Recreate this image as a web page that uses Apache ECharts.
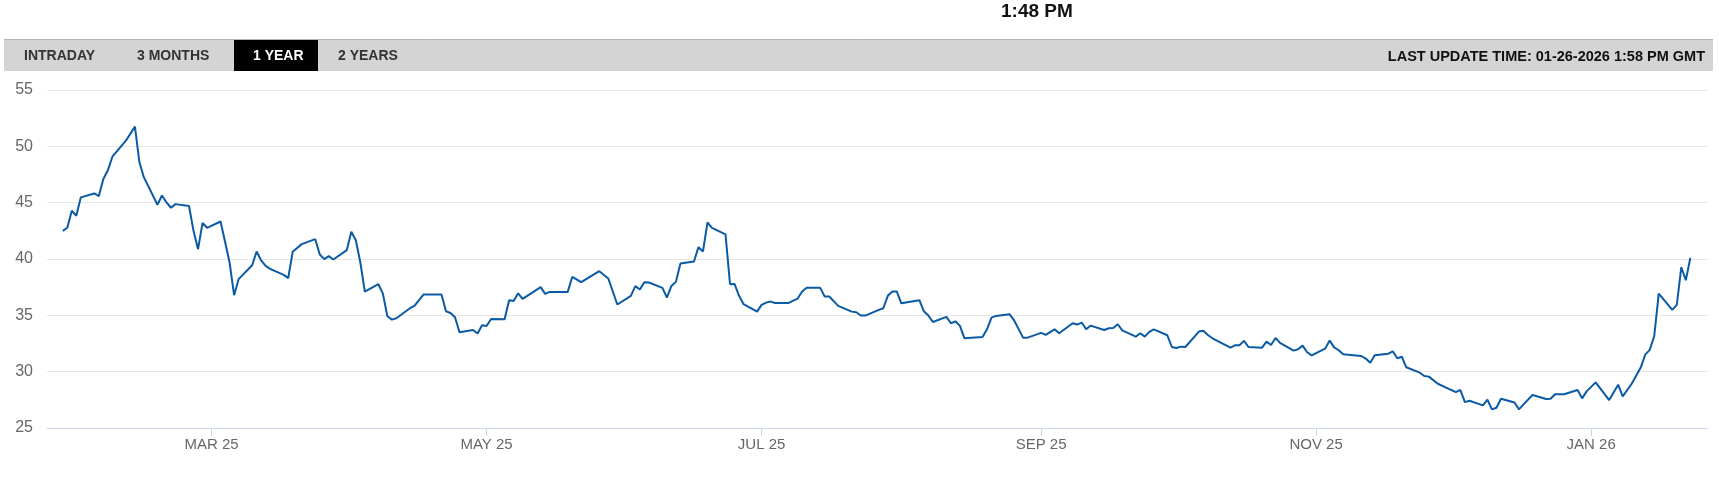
<!DOCTYPE html>
<html>
<head>
<meta charset="utf-8">
<title>1 Year</title>
<script src="https://cdn.jsdelivr.net/npm/echarts@6.0.0/dist/echarts.min.js"></script>
<style>
  html, body { margin: 0; padding: 0; background: #fff; }
  #chart { width: 1719px; height: 486px; }
</style>
</head>
<body>
<div id="chart"></div>
<script>
// trading days, counted in days from 1 Mar 2025
const dayOffsets = [
  -33, -32, -31, -30, -29, -26, -25, -24, -23, -22, -19, -17, -16, -15, -12, -11, -10, -9, -8, -5,
  -4, -3, -2, -1, 2, 4, 5, 6, 9, 10, 11, 12, 13, 16, 17, 18, 20, 23, 24, 25,
  26, 27, 30, 31, 32, 33, 34, 37, 38, 39, 40, 41, 44, 45, 47, 51, 52, 53, 54, 55,
  58, 59, 60, 61, 62, 65, 66, 67, 68, 69, 73, 74, 75, 79, 80, 82, 86, 88, 90, 93,
  94, 95, 96, 97, 100, 101, 102, 103, 104, 107, 108, 109, 110, 111, 114, 115, 116, 117, 118, 121,
  122, 123, 124, 125, 128, 130, 131, 132, 135, 136, 137, 139, 142, 143, 144, 145, 148, 149, 150, 151,
  152, 153, 157, 158, 159, 160, 163, 164, 165, 166, 167, 171, 172, 173, 174, 177, 178, 180, 181, 184,
  185, 187, 188, 191, 192, 193, 194, 195, 198, 199, 200, 201, 202, 205, 206, 207, 208, 209, 212, 213,
  214, 215, 216, 219, 220, 221, 222, 226, 227, 228, 229, 230, 233, 234, 235, 236, 237, 240, 241, 242,
  243, 244, 247, 248, 249, 250, 251, 255, 256, 257, 258, 261, 262, 263, 264, 265, 268, 269, 270, 272,
  275, 276, 277, 278, 279, 282, 283, 284, 285, 286, 289, 290, 291, 293, 296, 297, 298, 300, 303, 304,
  305, 307, 310, 312, 313, 315, 317, 318, 319, 320, 321, 324, 325, 326, 327, 328
];
const prices = [
  42.50, 42.77, 44.28, 43.84, 45.47, 45.82, 45.59, 47.10, 47.87, 49.08, 50.50, 51.75, 48.58, 47.24, 44.81, 45.64, 45.02, 44.55, 44.87, 44.70,
  42.50, 40.87, 43.21, 42.77, 43.33, 39.69, 36.79, 38.21, 39.45, 40.67, 39.87, 39.39, 39.13, 38.59, 38.30, 40.64, 41.32, 41.76, 40.40, 39.99,
  40.25, 39.96, 40.79, 42.41, 41.67, 39.69, 37.11, 37.76, 36.93, 34.92, 34.62, 34.74, 35.63, 35.84, 36.84, 36.84, 35.36, 35.21, 34.83, 33.50,
  33.70, 33.38, 34.12, 34.06, 34.68, 34.65, 36.34, 36.28, 36.96, 36.46, 37.50, 36.90, 37.08, 37.08, 38.41, 37.94, 38.92, 38.27, 35.96, 36.73,
  37.59, 37.29, 37.94, 37.91, 37.44, 36.58, 37.61, 37.97, 39.60, 39.78, 41.05, 40.67, 43.24, 42.77, 42.18, 37.76, 37.79, 36.73, 35.99, 35.33,
  35.93, 36.13, 36.22, 36.10, 36.10, 36.49, 37.11, 37.44, 37.44, 36.67, 36.67, 35.84, 35.33, 35.27, 34.98, 34.98, 35.48, 35.63, 36.73, 37.11,
  37.11, 36.07, 36.34, 35.36, 34.98, 34.41, 34.86, 34.30, 34.47, 34.06, 32.96, 33.08, 33.76, 34.80, 34.95, 35.10, 34.56, 33.02, 33.02, 33.44,
  33.26, 33.76, 33.41, 34.30, 34.18, 34.36, 33.76, 34.09, 33.70, 33.85, 33.88, 34.21, 33.67, 33.11, 33.41, 33.11, 33.53, 33.76, 33.23, 32.19,
  32.10, 32.22, 32.19, 33.56, 33.64, 33.26, 32.96, 32.13, 32.34, 32.34, 32.73, 32.19, 32.13, 32.67, 32.37, 32.99, 32.55, 31.87, 31.99, 32.31,
  31.72, 31.45, 32.04, 32.76, 32.16, 31.90, 31.54, 31.39, 31.16, 30.80, 31.45, 31.60, 31.81, 31.19, 31.33, 30.39, 29.91, 29.61, 29.56, 28.93,
  28.37, 28.19, 28.37, 27.30, 27.42, 27.01, 27.51, 26.65, 26.80, 27.60, 27.27, 26.65, 27.10, 27.93, 27.57, 27.60, 27.99, 27.99, 28.37, 27.63,
  28.25, 29.05, 27.48, 28.84, 27.81, 28.93, 30.36, 31.51, 31.93, 33.17, 36.93, 35.48, 35.93, 39.27, 38.12, 40.10
];
// months that carry an x-axis label
const tickMonths = [[2025, 2], [2025, 4], [2025, 6], [2025, 8], [2025, 10], [2026, 0]];
const monthNames = ['JAN', 'FEB', 'MAR', 'APR', 'MAY', 'JUN', 'JUL', 'AUG', 'SEP', 'OCT', 'NOV', 'DEC'];
// header texts
const tabLabels = ['INTRADAY', '3 MONTHS', '1 YEAR', '2 YEARS'];
const activeTab = 2;
const clockText = '1:48 PM';
const updateText = 'LAST UPDATE TIME: 01-26-2026 1:58 PM GMT';

const DAY = 864e5;
const base = new Date(2025, 2, 1).getTime();
const toTime = d => base + d * DAY;

const seriesData = dayOffsets.map((d, i) => [toTime(d), prices[i]]);
const tickValues = tickMonths.map(([y, m]) => new Date(y, m, 1).getTime());

const FONT = '"Liberation Sans", Arial, sans-serif';

// tab bar
const tabX = [24, 137, 253, 338];
const tabGraphics = tabLabels.map((label, i) => ({
  type: 'text',
  left: tabX[i],
  top: 49,
  style: {
    text: label,
    font: 'bold 14px ' + FONT,
    fill: i === activeTab ? '#ffffff' : '#333333'
  },
  z: 12
}));

const chart = echarts.init(document.getElementById('chart'));

const option = {
  animation: false,
  backgroundColor: '#ffffff',
  grid: {
    left: 47,
    right: 12,
    top: 90,
    bottom: 58,
    outerBoundsMode: 'none'
  },
  graphic: [
    {
      type: 'text',
      left: 1001,
      top: 2,
      style: { text: clockText, font: 'bold 19px ' + FONT, fill: '#111111' }
    },
    {
      type: 'rect',
      shape: { x: 4, y: 39, width: 1709, height: 32 },
      style: { fill: '#d4d4d4' },
      z: 10
    },
    {
      type: 'line',
      shape: { x1: 4, y1: 39.5, x2: 1713, y2: 39.5 },
      style: { stroke: '#b3b3b3', lineWidth: 1 },
      z: 11
    },
    {
      type: 'rect',
      shape: { x: 234, y: 40, width: 84, height: 31 },
      style: { fill: '#000000' },
      z: 11
    },
    ...tabGraphics,
    {
      type: 'text',
      right: 14,
      top: 49,
      style: { text: updateText, font: 'bold 14.5px ' + FONT, fill: '#111111' },
      z: 12
    }
  ],
  // dates are kept as timestamps on a value axis, so month ticks can be placed exactly
  xAxis: {
    type: 'value',
    min: toTime(-36.5),
    max: toTime(331.7),
    axisLine: { show: true, onZero: false, lineStyle: { color: '#ccd6eb', width: 1 } },
    axisTick: {
      show: true,
      length: 8,
      customValues: tickValues,
      lineStyle: { color: '#ccd6eb' }
    },
    axisLabel: {
      customValues: tickValues,
      color: '#666666',
      fontSize: 15,
      fontFamily: FONT,
      margin: 9,
      hideOverlap: false,
      formatter: value => {
        const dt = new Date(value);
        return monthNames[dt.getMonth()] + ' ' + String(dt.getFullYear()).slice(2);
      }
    },
    splitLine: { show: false }
  },
  yAxis: {
    type: 'value',
    min: 25,
    max: 55,
    interval: 5,
    axisLine: { show: false },
    axisTick: { show: false },
    axisLabel: {
      color: '#666666',
      fontSize: 16,
      fontFamily: FONT,
      margin: 14
    },
    splitLine: { lineStyle: { color: '#e6e6e6', width: 1 } }
  },
  series: [
    {
      type: 'line',
      data: seriesData,
      showSymbol: false,
      lineStyle: { color: '#0b5aa5', width: 2 },
      itemStyle: { color: '#0b5aa5' }
    }
  ]
};

chart.setOption(option);
</script>
</body>
</html>
